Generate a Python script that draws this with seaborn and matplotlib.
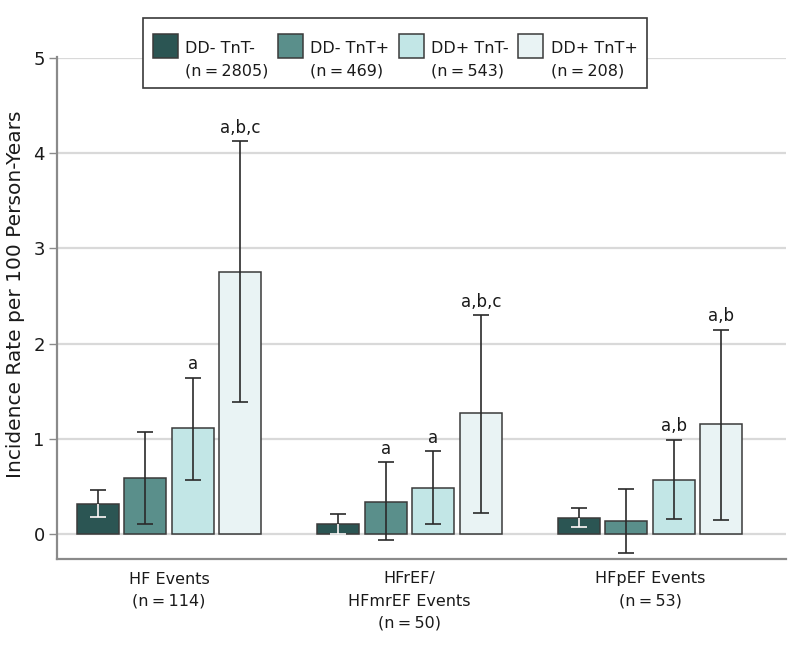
import numpy as np
import pandas as pd
import matplotlib
matplotlib.use("Agg")
import matplotlib.pyplot as plt
import seaborn as sns
from matplotlib.legend_handler import HandlerPatch
from matplotlib.patches import Rectangle

# ---------------- data ----------------
categories = ["HF Events\n(n\u2009=\u2009114)",
              "HFrEF/\nHFmrEF Events\n(n\u2009=\u200950)",
              "HFpEF Events\n(n\u2009=\u200953)"]
groups = ["DD- TnT-\n(n\u2009=\u20092805)", "DD- TnT+\n(n\u2009=\u2009469)",
          "DD+ TnT-\n(n\u2009=\u2009543)", "DD+ TnT+\n(n\u2009=\u2009208)"]

hf_rate = [0.32, 0.59, 1.12, 2.75]
hf_lo = [0.185, 0.11, 0.57, 1.39]
hf_hi = [0.465, 1.07, 1.645, 4.13]
hf_sig = ["", "", "a", "a,b,c"]

hfref_rate = [0.105, 0.34, 0.49, 1.27]
hfref_lo = [0.0, -0.06, 0.105, 0.225]
hfref_hi = [0.213, 0.756, 0.875, 2.30]
hfref_sig = ["", "a", "a", "a,b,c"]

hfpef_rate = [0.168, 0.137, 0.573, 1.159]
hfpef_lo = [0.074, -0.20, 0.158, 0.147]
hfpef_hi = [0.28, 0.48, 0.994, 2.146]
hfpef_sig = ["", "", "a,b", "a,b"]

yticks = [0, 1, 2, 3, 4, 5]
ylabel = "Incidence Rate per 100 Person-Years"

colors = ["#2b5553", "#5a8f8b", "#c2e6e6", "#e9f3f4"]

# ---------------- build table ----------------
rows = []
for cat, rate, lo, hi, sig in zip(categories,
                                  [hf_rate, hfref_rate, hfpef_rate],
                                  [hf_lo, hfref_lo, hfpef_lo],
                                  [hf_hi, hfref_hi, hfpef_hi],
                                  [hf_sig, hfref_sig, hfpef_sig]):
    for g, r, l, h, s in zip(groups, rate, lo, hi, sig):
        rows.append(dict(category=cat, group=g, rate=r, lo=l, hi=h, sig=s))
df = pd.DataFrame(rows)

sns.set_style("white")
plt.rcParams["font.family"] = ["DejaVu Sans"]
plt.rcParams["text.color"] = "#1a1a1a"

fig = plt.figure(figsize=(7.98, 6.58), dpi=100)
ax = fig.add_axes([57.3 / 798, 1 - 559 / 658, (786 - 57.3) / 798, (559 - 57.5) / 658])

sns.barplot(data=df, x="category", y="rate", hue="group",
            order=categories, hue_order=groups, palette=colors,
            width=0.79, gap=0.12, errorbar=None,
            edgecolor="#3a3a3a", linewidth=1.1, ax=ax, legend=True,
            saturation=1)

# error bars and significance labels
for gi, (g, cont) in enumerate(zip(groups, ax.containers)):
    sub = df[df.group == g].set_index("category").loc[categories]
    xs = np.array([p.get_x() + p.get_width() / 2 for p in cont.patches])
    vals = sub["rate"].to_numpy()
    lo = sub["lo"].to_numpy()
    hi = sub["hi"].to_numpy()
    ax.errorbar(xs, vals, yerr=[vals - lo, hi - vals], fmt="none",
                ecolor="#2a2a2a", elinewidth=1.2, capsize=6, capthick=1.2,
                zorder=3)
    if gi == 0:
        ax.vlines(xs, lo, vals, color="white", lw=1.2, zorder=4)
        ax.plot(xs, lo, ls="none", marker="_", ms=12, mew=1.2,
                color="white", zorder=4)
    for x, h, s in zip(xs, hi, sub["sig"]):
        if s:
            ax.annotate(s, (x, h), xytext=(0, 6), textcoords="offset points",
                        ha="center", va="baseline", fontsize=12,
                        color="#1a1a1a")

ax.set_ylim(-0.26, 5.005)
ax.set_xlim(-0.465, 2.565)
ax.set_yticks(yticks)
ax.set_yticklabels([str(t) for t in yticks])
ax.yaxis.grid(True, color="#d9d9d9", lw=1.6)
ax.xaxis.grid(False)
ax.set_axisbelow(True)
for s in ["top", "right"]:
    ax.spines[s].set_visible(False)
for s in ["left", "bottom"]:
    ax.spines[s].set_color("#8a8a8a")
    ax.spines[s].set_linewidth(1.6)
ax.tick_params(axis="y", length=6, width=1, color="#8a8a8a",
               labelsize=13, pad=3, labelcolor="#1a1a1a", left=True)
ax.tick_params(axis="x", length=0, pad=9, labelsize=11.5, labelcolor="#1a1a1a")
for t in ax.get_xticklabels():
    t.set_linespacing(1.6)
ax.set_xlabel("")
ax.set_ylabel(ylabel, fontsize=14.5, color="#1a1a1a")
ax.yaxis.set_label_coords(-0.045, 0.527)

# legend
handles, labels = ax.get_legend_handles_labels()


def shifted_patch(legend, orig_handle, xdescent, ydescent, width, height, fontsize):
    # patch sits beside the first text line
    return Rectangle((-xdescent, 0.5 * fontsize), width, 1.5 * fontsize)


hmap = {h: HandlerPatch(patch_func=shifted_patch) for h in handles}
leg = ax.legend(handles, labels, ncol=4, loc="upper center",
                bbox_to_anchor=(395 / 798, 1 - 18 / 658),
                bbox_transform=fig.transFigure, frameon=True, fancybox=False,
                framealpha=1, edgecolor="#3a3a3a", fontsize=11.5,
                title=" ", title_fontsize=6, labelspacing=0.3,
                handlelength=1.57, handletextpad=0.45,
                columnspacing=0.6, borderpad=0.6, borderaxespad=0,
                handler_map=hmap)
leg.get_frame().set_linewidth(1.2)
for t in leg.get_texts():
    t.set_linespacing(1.6)

fig.savefig("out.png", dpi=100)
